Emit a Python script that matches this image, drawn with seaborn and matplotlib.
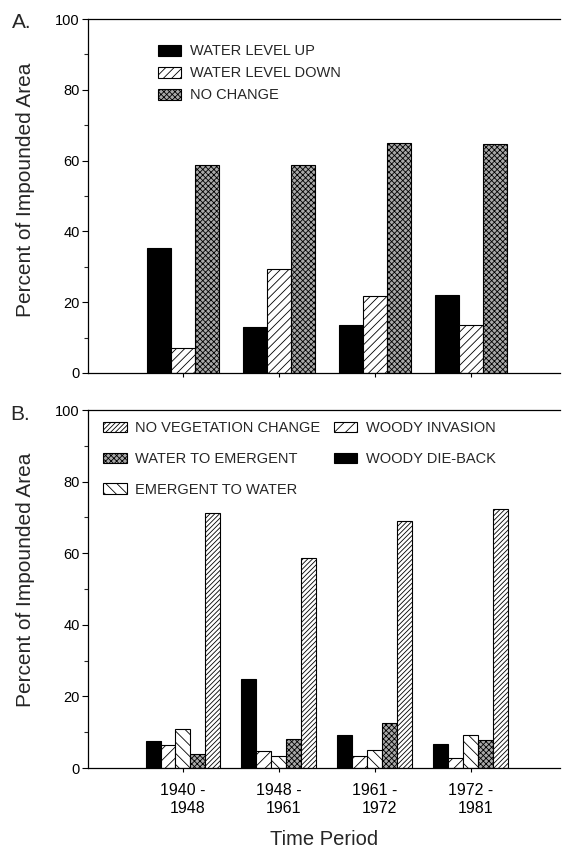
import matplotlib
matplotlib.use("Agg")
import matplotlib.pyplot as plt
from matplotlib.patches import Patch
from matplotlib.ticker import MultipleLocator
import seaborn as sns
import pandas as pd

# ---- data ----
periods = ["1940 -\n1948", "1948 -\n1961", "1961 -\n1972", "1972 -\n1981"]

a_series = ["WATER LEVEL UP", "WATER LEVEL DOWN", "NO CHANGE"]
a_water_up = [35.2, 13.1, 13.6, 22.0]
a_water_down = [7.0, 29.5, 21.8, 13.5]
a_no_change = [58.7, 58.7, 65.1, 64.8]

b_series = ["WOODY DIE-BACK", "WOODY INVASION", "EMERGENT TO WATER",
            "WATER TO EMERGENT", "NO VEGETATION CHANGE"]
b_woody_dieback = [7.6, 25.0, 9.3, 6.7]
b_woody_invasion = [6.5, 4.8, 3.3, 2.8]
b_emergent_to_water = [10.9, 3.3, 4.9, 9.3]
b_water_to_emergent = [3.9, 8.2, 12.6, 7.9]
b_no_veg_change = [71.2, 58.6, 69.0, 72.3]

y_ticks = [0, 20, 40, 60, 80, 100]

# ---- styles ----
styles = {
    "WATER LEVEL UP": dict(fc="black", hatch=None),
    "WATER LEVEL DOWN": dict(fc="white", hatch="////"),
    "NO CHANGE": dict(fc="#a8a8a8", hatch="xxxxxx"),
    "WOODY DIE-BACK": dict(fc="black", hatch=None),
    "WOODY INVASION": dict(fc="white", hatch="///"),
    "EMERGENT TO WATER": dict(fc="white", hatch="\\\\\\"),
    "WATER TO EMERGENT": dict(fc="#a8a8a8", hatch="xxxxxx"),
    "NO VEGETATION CHANGE": dict(fc="white", hatch="///////"),
}

sns.set_theme(style="ticks")
plt.rcParams["font.family"] = ["Liberation Sans", "DejaVu Sans"]
plt.rcParams["hatch.linewidth"] = 0.6
plt.rcParams["hatch.color"] = "black"

df_a = pd.DataFrame({
    "period": periods * 3,
    "series": sum([[s] * 4 for s in a_series], []),
    "value": a_water_up + a_water_down + a_no_change,
})
df_b = pd.DataFrame({
    "period": periods * 5,
    "series": sum([[s] * 4 for s in b_series], []),
    "value": b_woody_dieback + b_woody_invasion + b_emergent_to_water
             + b_water_to_emergent + b_no_veg_change,
})

fig = plt.figure(figsize=(5.65, 8.48), dpi=100)
ax_a = fig.add_axes([88 / 565, 1 - 373 / 848, 472 / 565, 354 / 848])
ax_b = fig.add_axes([88 / 565, 1 - 768 / 848, 472 / 565, 358 / 848])


def draw(ax, df, order, width):
    pal = {s: styles[s]["fc"] for s in order}
    sns.barplot(data=df, x="period", y="value", hue="series", hue_order=order,
                order=periods, palette=pal, width=width, dodge=True,
                edgecolor="black", linewidth=0.8, saturation=1, ax=ax,
                legend=False, errorbar=None)
    for cont, s in zip(ax.containers, order):
        for bar in cont:
            bar.set_facecolor(styles[s]["fc"])
            if styles[s]["hatch"]:
                bar.set_hatch(styles[s]["hatch"])
    ax.set_xlim(-0.99, 3.93)
    ax.set_ylim(0, 100)
    ax.set_yticks(y_ticks)
    ax.yaxis.set_minor_locator(MultipleLocator(10))
    ax.tick_params(axis="y", which="major", direction="out", length=4,
                   width=0.8, labelsize=10.5, pad=2, colors="black")
    ax.tick_params(axis="y", which="minor", direction="out", length=3,
                   width=0.8)
    ax.tick_params(axis="x", direction="out", length=3, width=0.8,
                   labelsize=11.5, colors="black", pad=8)
    for side in ["left", "top", "bottom"]:
        ax.spines[side].set_visible(True)
        ax.spines[side].set_linewidth(0.9)
        ax.spines[side].set_color("black")
    ax.spines["right"].set_visible(False)
    ax.set_ylabel("Percent of Impounded Area", fontsize=15)


def handle(s):
    st = styles[s]
    return Patch(facecolor=st["fc"], edgecolor="black", linewidth=0.8,
                 hatch=st["hatch"], label=s)


draw(ax_a, df_a, a_series, 0.75)
ax_a.set_xlabel("")
ax_a.set_xticklabels([])
ax_a.yaxis.set_label_coords(-0.112, 0.517)
ax_a.legend(handles=[handle(s) for s in a_series], loc="upper left",
            bbox_to_anchor=(0.135, 0.945), frameon=False, fontsize=10.5,
            handlelength=1.6, handleheight=0.75, handletextpad=0.6,
            labelspacing=0.55, borderaxespad=0)

draw(ax_b, df_b, b_series, 0.78)
ax_b.set_xlabel("Time Period", fontsize=14.5, labelpad=10)
for lbl in ax_b.get_xticklabels():
    lbl.set_multialignment("right")
ax_b.yaxis.set_label_coords(-0.112, 0.525)
leg_order = ["NO VEGETATION CHANGE", "WATER TO EMERGENT", "EMERGENT TO WATER",
             "WOODY INVASION", "WOODY DIE-BACK"]
ax_b.legend(handles=[handle(s) for s in leg_order], loc="upper left",
            bbox_to_anchor=(0.02, 0.985), frameon=False, fontsize=10.5, ncol=2,
            handlelength=1.6, handleheight=0.75, handletextpad=0.6,
            labelspacing=1.15, columnspacing=0.9, borderaxespad=0)

fig.text(12 / 565, 1 - 28 / 848, "A.", fontsize=15, ha="left", va="baseline")
fig.text(10 / 565, 1 - 420 / 848, "B.", fontsize=15, ha="left", va="baseline")

fig.savefig("out.png", dpi=100)
